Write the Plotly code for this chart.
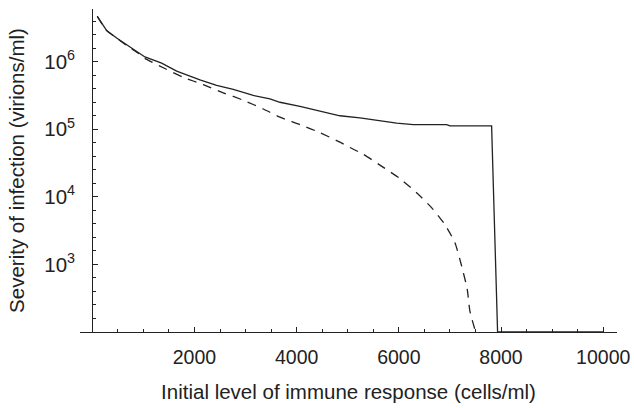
import plotly.graph_objects as go

# Solid curve: severity of infection vs initial immune response
solid_x = [98, 282, 477, 673, 869, 1031, 1358, 1652, 2108, 2434, 2760, 3151, 3478,
           3673, 4065, 4456, 4847, 5239, 5630, 5957, 6282, 6935, 7000, 7816, 7933, 10000]
solid_logy = [6.67, 6.46, 6.35, 6.25, 6.15, 6.07, 5.98, 5.86, 5.73, 5.65, 5.59, 5.50, 5.45,
              5.40, 5.34, 5.27, 5.20, 5.17, 5.13, 5.09, 5.07, 5.07, 5.05, 5.05, 2.0, 2.0]

# Dashed curve
dash_x = [98, 282, 477, 673, 869, 1031, 1390, 1781, 2172, 2564, 2955, 3347, 3673, 4065,
          4456, 4847, 5043, 5303, 5630, 6022, 6348, 6641, 6902, 7098, 7228, 7339, 7391, 7503]
dash_logy = [6.67, 6.46, 6.35, 6.24, 6.14, 6.05, 5.91, 5.77, 5.66, 5.54, 5.43, 5.30, 5.18, 5.07,
             4.95, 4.81, 4.73, 4.63, 4.47, 4.27, 4.06, 3.84, 3.59, 3.32, 2.98, 2.63, 2.31, 2.0]

x_ticks = [2000, 4000, 6000, 8000, 10000]
x_ticktext = ["2000", "4000", "6000", "8000", "10000"]
y_ticks = [1e3, 1e4, 1e5, 1e6]
y_ticktext = ["10<sup>3</sup>", "10<sup>4</sup>", "10<sup>5</sup>", "10<sup>6</sup>"]
y_minor = [10 ** (k + j / 5) for k in range(2, 7) for j in range(1, 5) if k + j / 5 < 6.78]

solid_y = [10 ** v for v in solid_logy]
dash_y = [10 ** v for v in dash_logy]

ink = "#222222"
fig = go.Figure()
fig.add_trace(go.Scatter(x=solid_x, y=solid_y, mode="lines",
                         line=dict(color=ink, width=1.3), showlegend=False))
fig.add_trace(go.Scatter(x=dash_x, y=dash_y, mode="lines",
                         line=dict(color=ink, width=1.3, dash="9px,7px", shape="spline",
                                   smoothing=0.6),
                         showlegend=False))

font = dict(family="Liberation Sans, Arial, sans-serif", color=ink)
fig.update_layout(
    width=634, height=408,
    margin=dict(l=80, r=17, t=9, b=76),
    paper_bgcolor="white", plot_bgcolor="white",
    font=dict(size=19, **font),
    xaxis=dict(
        range=[-240, 10270], showgrid=False, zeroline=False, automargin=False,
        showline=True, linecolor=ink, linewidth=1.2,
        tickvals=x_ticks, ticktext=x_ticktext,
        ticks="inside", ticklen=5, tickcolor=ink, tickwidth=1,
        tickfont=dict(size=19.5, **font), ticklabelstandoff=7,
        minor=dict(dtick=500, tick0=0, ticks="inside", ticklen=3, tickcolor=ink, showgrid=False),
        title=dict(text="Initial level of immune response (cells/ml)",
                   font=dict(size=20.5, **font), standoff=18),
    ),
    yaxis=dict(
        type="log", range=[2, 6.78], showgrid=False, zeroline=False, automargin=False,
        anchor="free", position=240 / 10510,
        showline=True, linecolor=ink, linewidth=1.2,
        tickvals=y_ticks, ticktext=y_ticktext,
        ticks="inside", ticklen=5, tickcolor=ink, tickwidth=1,
        tickfont=dict(size=20.5, **font), ticklabelstandoff=13,
        minor=dict(tickvals=y_minor, ticks="inside", ticklen=3, tickcolor=ink, showgrid=False),
        title=dict(text="Severity of infection (virions/ml)",
                   font=dict(size=20.5, **font), standoff=13),
    ),
)

fig.write_html("out.html")
